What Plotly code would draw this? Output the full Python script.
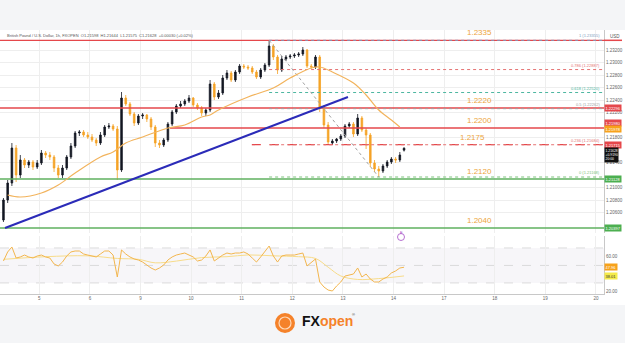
import plotly.graph_objects as go

# ---------------- data ----------------
day_labels = ["5", "6", "9", "10", "11", "12", "13", "14", "17", "18", "19", "20"]
first_bar_hour = -17      # first bar, hours relative to the start of day "5"
bar_hours = 2             # each candle = 2 hours

opens = [1.2048, 1.208, 1.21072, 1.21632, 1.212, 1.2144, 1.2136, 1.21408, 1.21328, 1.21392,
         1.21552, 1.2152, 1.21488, 1.21312, 1.212, 1.21312, 1.21488, 1.21664, 1.21872, 1.21888,
         1.2184, 1.21808, 1.2176, 1.21712, 1.2184, 1.21968, 1.21984, 1.21936, 1.2128, 1.22432,
         1.22336, 1.22176, 1.22032, 1.22144, 1.2216, 1.22096, 1.21968, 1.21712, 1.2168, 1.2176,
         1.22016, 1.22208, 1.22304, 1.22336, 1.22384, 1.22432, 1.2232, 1.22272, 1.22192, 1.2224,
         1.22656, 1.22448, 1.22512, 1.22752, 1.22832, 1.2272, 1.22848, 1.22944, 1.22928, 1.22912,
         1.22848, 1.22768, 1.2288, 1.2296, 1.23264, 1.23088, 1.2288, 1.23056, 1.23088, 1.23104,
         1.2312, 1.23136, 1.232, 1.22944, 1.22928, 1.23088, 1.22272, 1.22, 1.21712, 1.21744,
         1.21776, 1.21824, 1.21984, 1.22016, 1.21856, 1.22112, 1.2192, 1.2184, 1.21392, 1.21296,
         1.21264, 1.21344, 1.21408, 1.21456, 1.2144, 1.21598]
highs = [1.20832, 1.2112, 1.21712, 1.2168, 1.2152, 1.21472, 1.2144, 1.2144, 1.2144, 1.216,
         1.21584, 1.21568, 1.2152, 1.2136, 1.2136, 1.2152, 1.21712, 1.21904, 1.2192, 1.2192,
         1.21888, 1.21856, 1.21792, 1.21888, 1.22, 1.22032, 1.22016, 1.21984, 1.22528, 1.2248,
         1.22368, 1.22208, 1.22176, 1.22192, 1.22176, 1.22128, 1.22, 1.2176, 1.21792, 1.22048,
         1.2224, 1.22336, 1.22384, 1.22416, 1.2248, 1.22448, 1.22352, 1.22304, 1.22272, 1.2272,
         1.22688, 1.2256, 1.228, 1.2288, 1.22864, 1.2288, 1.22976, 1.22976, 1.2296, 1.22944,
         1.2288, 1.22912, 1.22992, 1.23355, 1.23296, 1.2312, 1.23104, 1.2312, 1.23136, 1.23152,
         1.23168, 1.23248, 1.23216, 1.22976, 1.2312, 1.2312, 1.2232, 1.22048, 1.21776, 1.21792,
         1.21856, 1.22016, 1.22048, 1.22048, 1.22176, 1.22144, 1.21952, 1.21872, 1.2144, 1.21344,
         1.21376, 1.2144, 1.21488, 1.21488, 1.21568, 1.21644]
lows = [1.20448, 1.20752, 1.21024, 1.21088, 1.21152, 1.21312, 1.21312, 1.2128, 1.21296, 1.2136,
        1.21472, 1.2144, 1.21248, 1.21152, 1.21152, 1.2128, 1.21456, 1.21632, 1.21824, 1.21808,
        1.21776, 1.21728, 1.21664, 1.2168, 1.21808, 1.21936, 1.21904, 1.2112, 1.21248, 1.22304,
        1.22144, 1.21984, 1.22, 1.22096, 1.22048, 1.2192, 1.21648, 1.21632, 1.21648, 1.21728,
        1.21984, 1.22176, 1.22272, 1.22304, 1.22352, 1.22288, 1.2224, 1.22144, 1.22144, 1.22208,
        1.224, 1.22416, 1.2248, 1.2272, 1.22688, 1.22688, 1.22816, 1.22896, 1.2288, 1.22816,
        1.22736, 1.22736, 1.22848, 1.22928, 1.2304, 1.22816, 1.22848, 1.23024, 1.23056, 1.23072,
        1.23088, 1.23104, 1.22912, 1.22896, 1.22896, 1.22208, 1.21952, 1.2168, 1.2168, 1.21712,
        1.21744, 1.21792, 1.21952, 1.21808, 1.21824, 1.21888, 1.21616, 1.21328, 1.21248, 1.21168,
        1.21232, 1.21312, 1.21376, 1.21392, 1.21408, 1.21575]
closes = [1.208, 1.21072, 1.21632, 1.212, 1.2144, 1.2136, 1.21408, 1.21328, 1.21392, 1.21552,
          1.2152, 1.21488, 1.21312, 1.212, 1.21312, 1.21488, 1.21664, 1.21872, 1.21888, 1.2184,
          1.21808, 1.2176, 1.21712, 1.2184, 1.21968, 1.21984, 1.21936, 1.2128, 1.22432, 1.22336,
          1.22176, 1.22032, 1.22144, 1.2216, 1.22096, 1.21968, 1.21712, 1.2168, 1.2176, 1.22016,
          1.22208, 1.22304, 1.22336, 1.22384, 1.22432, 1.2232, 1.22272, 1.22192, 1.2224, 1.22656,
          1.22448, 1.22512, 1.22752, 1.22832, 1.2272, 1.22848, 1.22944, 1.22928, 1.22912, 1.22848,
          1.22768, 1.2288, 1.2296, 1.23264, 1.23088, 1.2288, 1.23056, 1.23088, 1.23104, 1.2312,
          1.23136, 1.232, 1.22944, 1.22928, 1.23088, 1.22272, 1.22, 1.21728, 1.21744, 1.21776,
          1.21824, 1.21984, 1.22016, 1.21856, 1.22112, 1.2192, 1.2184, 1.21392, 1.21296, 1.21264,
          1.21344, 1.21408, 1.21456, 1.2144, 1.2152, 1.21628]

# moving average (read at selected bars)
ma_idx = [1, 4, 9, 13, 17, 23, 26, 29, 33, 39, 43, 47, 49, 51, 58, 64, 68, 73, 75, 78, 83, 86, 89, 92, 94]
ma_vals = [1.2088, 1.20848, 1.20912, 1.2104, 1.21232, 1.21488, 1.21568, 1.21712, 1.21808, 1.21952,
           1.22, 1.22128, 1.2216, 1.2224, 1.22448, 1.22592, 1.22752, 1.22912, 1.22928, 1.22848,
           1.22672, 1.2248, 1.2224, 1.2208, 1.21968]

rsi_vals = [55.1, 65.4, 71.1, 58.5, 59.7, 61.9, 59.7, 58.5, 60.8, 61.9,
            59.7, 58.5, 51.7, 49.4, 53.9, 60.8, 65.4, 66.5, 66.5, 63.1,
            61.9, 60.8, 59.7, 63.1, 66.5, 66.5, 61.9, 36.8, 67.7, 63.1,
            59.7, 57.4, 56.2, 53.9, 50.5, 47.1, 44.8, 47.1, 50.5, 56.2,
            59.7, 61.9, 63.1, 64.2, 61.9, 59.7, 55.1, 56.2, 60.8, 67.7,
            55.1, 58.5, 61.9, 64.2, 63.1, 64.2, 64.2, 65.4, 63.1, 58.5,
            53.9, 59.7, 65.4, 72.2, 60.8, 53.9, 60.8, 61.9, 61.9, 61.9,
            63.1, 64.2, 49.4, 53.9, 57.4, 31.1, 25.4, 21.9, 20.8, 26.5,
            31.1, 37.9, 39.1, 40.2, 47.1, 36.8, 40.2, 34.5, 31.1, 31.1,
            34.5, 36.8, 41.4, 43.7, 47.1, 47.96]
rsi_ma_idx = [0, 10, 20, 27, 32, 36, 41, 47, 53, 58, 64, 70, 74, 77, 80, 84, 89, 95]
rsi_ma_vals = [57, 60, 61, 58, 57, 53, 55, 59, 60, 62, 61, 60, 58, 48, 38, 34, 35, 38.01]
rsi_ticks = [20, 60]

# horizontal support / resistance levels
level_prices = [1.23355, 1.22272, 1.21952, 1.21685, 1.21136, 1.20352]
level_labels = ["1.2335", "1.2220", "1.2200", "1.2175", "1.2120", "1.2040"]
level_kinds = ["res", "res", "res", "res", "sup", "sup"]
level_from = [None, None, 39.5, 58.9, None, None]   # bar index where a level starts

# rising trend line (bar index, price)
trend_idx = [0.37, 81.7]
trend_vals = [1.20352, 1.22448]

# fibonacci retracement
fib_high, fib_low = 1.23355, 1.21168
fib_idx = [63, 89]
fib_ratios = [1, 0.786, 0.618, 0.5, 0.236, 0]

# right axis price ticks and tags
price_ticks = [1.232, 1.230, 1.228, 1.226, 1.224, 1.222, 1.218, 1.214, 1.210, 1.208, 1.206]
tag_prices = [1.22272, 1.22035, 1.21933, 1.21685, 1.21136, 1.20352]
tag_texts = ["1.22296", "1.21980", "1.21978", "1.21715", "1.21128", "1.20397"]
tag_kinds = ["red", "red", "orange", "red", "green", "green"]
last_tag_text = "1.21628<br>+0.9190<br>20:00"
header = ("British Pound / U.S. Dollar, 1h, FXOPEN  O1.21598  H1.21644  L1.21575  "
          "C1.21628  +0.00030 (+0.02%)")

# ---------------- style ----------------
RED = "#e5474b"
GREEN = "#5fb15f"
ORANGE = "#f5a327"
BLACK = "#131722"
LABEL = "#eda53c"
FONT = "Liberation Sans, Arial, sans-serif"
PW, FH = 604, 343
X_RANGE = [-0.82, 142.42]
P_RANGE = [1.20272, 1.2352]
R_RANGE = [17.37, 83.66]

def py(px):
    return 1 - px / FH

n = len(closes)
xs = list(range(n))
day_ticks = [(24 * k - first_bar_hour) / bar_hours for k in range(len(day_labels))]

fig = go.Figure()

# levels
for i, (p, kind, start) in enumerate(zip(level_prices, level_kinds, level_from)):
    x0 = X_RANGE[0] if start is None else start
    col = RED if kind == "res" else GREEN
    dash = "dash" if i == 3 else "solid"
    fig.add_trace(go.Scatter(x=[x0, X_RANGE[1]], y=[p, p], mode="lines",
                             line=dict(color=col, width=1.3, dash=dash), hoverinfo="skip"))

# fib lines
fib_cols = ["#7e9cc0", "#e57373", "#4db6a0", "#9e9e9e", "#e57373", "#7cc27c"]
fib_prices = [fib_low + r * (fib_high - fib_low) for r in fib_ratios]
for fp, fc in zip(fib_prices, fib_cols):
    fig.add_trace(go.Scatter(x=[fib_idx[0], X_RANGE[1]], y=[fp, fp], mode="lines",
                             line=dict(color=fc, width=1, dash="dot"), hoverinfo="skip"))
fig.add_trace(go.Scatter(x=fib_idx, y=[fib_high, fib_low], mode="lines",
                         line=dict(color="#a0a0a0", width=1, dash="dot"), hoverinfo="skip"))

# MA
fig.add_trace(go.Scatter(x=ma_idx, y=ma_vals, mode="lines",
                         line=dict(color="#f2b35c", width=1.2, shape="spline"), hoverinfo="skip"))
# trend line
fig.add_trace(go.Scatter(x=trend_idx, y=trend_vals, mode="lines",
                         line=dict(color="#2b2bb8", width=2), hoverinfo="skip"))

# candles
fig.add_trace(go.Candlestick(x=xs, open=opens, high=highs, low=lows, close=closes,
                             increasing=dict(line=dict(color=BLACK, width=0.8), fillcolor=BLACK),
                             decreasing=dict(line=dict(color=ORANGE, width=0.8), fillcolor=ORANGE),
                             whiskerwidth=0, hoverinfo="skip"))

# RSI
fig.add_trace(go.Scatter(x=rsi_ma_idx, y=rsi_ma_vals, mode="lines", xaxis="x2", yaxis="y2",
                         line=dict(color="#f7dc8a", width=1, shape="spline"), hoverinfo="skip"))
fig.add_trace(go.Scatter(x=xs, y=rsi_vals, mode="lines", xaxis="x2", yaxis="y2",
                         line=dict(color="#f3b64e", width=1), hoverinfo="skip"))

shapes = [
    dict(type="rect", xref="paper", yref="paper", x0=0, x1=625 / PW, y0=py(305), y1=py(30),
         fillcolor="white", line=dict(width=0), layer="below"),
    dict(type="rect", xref="x2", yref="y2", x0=X_RANGE[0], x1=X_RANGE[1], y0=30, y1=70,
         fillcolor="rgba(120,110,160,0.06)", line=dict(width=0), layer="below"),
    # event marker
    dict(type="circle", xref="paper", yref="paper", x0=397.5 / PW, x1=404.5 / PW,
         y0=py(240.5), y1=py(233.5), line=dict(color="#a44cc4", width=0.8), fillcolor="white"),
    # logo emblem
    dict(type="circle", xref="paper", yref="paper", x0=275 / PW, x1=295 / PW,
         y0=py(333), y1=py(313), line=dict(width=0), fillcolor="#f5822a"),
    dict(type="circle", xref="paper", yref="paper", x0=279 / PW, x1=291 / PW,
         y0=py(329), y1=py(317), line=dict(color="#ffd9b8", width=1.2), fillcolor="rgba(0,0,0,0)"),
    # red stub for top level in axis area
    dict(type="line", xref="paper", yref="y", x0=1, x1=622 / PW, y0=level_prices[0], y1=level_prices[0],
         line=dict(color=RED, width=1.5)),
]
for v in [70, 50, 30]:
    shapes.append(dict(type="line", xref="x2", yref="y2", x0=X_RANGE[0], x1=X_RANGE[1], y0=v, y1=v,
                       line=dict(color="#cfcfcf", width=0.7, dash="dash"), layer="below"))

ann = []
ann.append(dict(text=header, xref="paper", yref="paper", x=5 / PW, y=py(35), xanchor="left",
                yanchor="middle", showarrow=False, font=dict(size=4, color="#555", family=FONT)))
ann.append(dict(text="USD", xref="paper", yref="paper", x=1, xshift=4, y=py(37), xanchor="left",
                yanchor="middle", showarrow=False, font=dict(size=4.5, color="#555", family=FONT)))
label_x = [480, 480, 480, 472, 480, 480]
for p, lab, lx in zip(level_prices, level_labels, label_x):
    ann.append(dict(text=lab, xref="paper", yref="y", x=lx / PW, y=p, xanchor="center",
                    yanchor="bottom", yshift=1, showarrow=False,
                    font=dict(size=8, color=LABEL, family=FONT)))
for r, fp, fc in zip(fib_ratios, fib_prices, fib_cols):
    ann.append(dict(text=f"{r} ({fp:.5f})", xref="paper", yref="y", x=0.997, y=fp, xanchor="right",
                    yanchor="bottom", yshift=0, showarrow=False,
                    font=dict(size=4, color=fc, family=FONT)))
tag_bg = {"red": RED, "orange": "#f7a21b", "green": "#4caf50"}
for p, t, k in zip(tag_prices, tag_texts, tag_kinds):
    ann.append(dict(text=t, xref="paper", yref="y", x=1, y=p, xanchor="left", yanchor="middle",
                    showarrow=False, bgcolor=tag_bg[k], borderpad=0.5,
                    font=dict(size=4, color="white", family=FONT)))
ann.append(dict(text=last_tag_text, xref="paper", yref="y", x=1, y=closes[-1], xanchor="left",
                yanchor="top", yshift=1, showarrow=False, bgcolor="#111", borderpad=0.5, align="left",
                font=dict(size=3.4, color="white", family=FONT)))
ann.append(dict(text=f"{rsi_vals[-1]:.2f}", xref="paper", yref="y2", x=1, y=rsi_vals[-1],
                xanchor="left", yanchor="middle", showarrow=False, bgcolor="#f7a21b", borderpad=0.5,
                font=dict(size=4, color="white", family=FONT)))
ann.append(dict(text=f"{rsi_ma_vals[-1]:.2f}", xref="paper", yref="y2", x=1, y=rsi_ma_vals[-1],
                xanchor="left", yanchor="middle", showarrow=False, bgcolor="#f5eb4a", borderpad=0.5,
                font=dict(size=4, color="#333", family=FONT)))
ann.append(dict(text="E", xref="paper", yref="paper", x=401 / PW, y=py(237), showarrow=False,
                font=dict(size=4, color="#a44cc4", family=FONT)))
ann.append(dict(text="<b>FX</b><b><span style='color:#f5822a'>open</span></b>", xref="paper",
                yref="paper", x=300 / PW, y=py(321), xanchor="left", yanchor="middle",
                showarrow=False, font=dict(size=14, color="#111", family=FONT)))
ann.append(dict(text="®", xref="paper", yref="paper", x=350 / PW, y=py(314), xanchor="left",
                yanchor="middle", showarrow=False, font=dict(size=4, color="#333", family=FONT)))

grid = "#eeeeee"
fig.update_layout(
    width=625, height=343, margin=dict(l=0, r=21, t=0, b=0),
    paper_bgcolor="#f4f5f7", plot_bgcolor="white", showlegend=False,
    font=dict(family=FONT), boxgap=0.45,
    xaxis=dict(domain=[0, 1], range=X_RANGE, anchor="y", tickvals=day_ticks, showticklabels=False,
               showgrid=True, gridcolor=grid, gridwidth=1, zeroline=False,
               rangeslider=dict(visible=False), ticks=""),
    yaxis=dict(domain=[py(233), py(30)], range=P_RANGE, side="right", anchor="x",
               tickvals=price_ticks, ticktext=[f"{t:.5f}" for t in price_ticks],
               tickfont=dict(size=4.5, color="#666"), showgrid=True, gridcolor=grid,
               zeroline=False, showline=True, linecolor="#c8c8c8", linewidth=1, ticks=""),
    xaxis2=dict(domain=[0, 1], range=X_RANGE, anchor="y2", matches="x", tickvals=day_ticks,
                ticktext=day_labels, tickfont=dict(size=4.5, color="#666"), showgrid=True,
                gridcolor=grid, zeroline=False, showline=True, linecolor="#c8c8c8", ticks=""),
    yaxis2=dict(domain=[py(294), py(236)], range=R_RANGE, side="right", anchor="x2",
                tickvals=rsi_ticks, ticktext=[f"{t:.2f}" for t in rsi_ticks],
                tickfont=dict(size=4.5, color="#666"), showgrid=False, zeroline=False,
                showline=True, linecolor="#c8c8c8", ticks=""),
    shapes=shapes, annotations=ann,
)
fig.write_html("out.html")
